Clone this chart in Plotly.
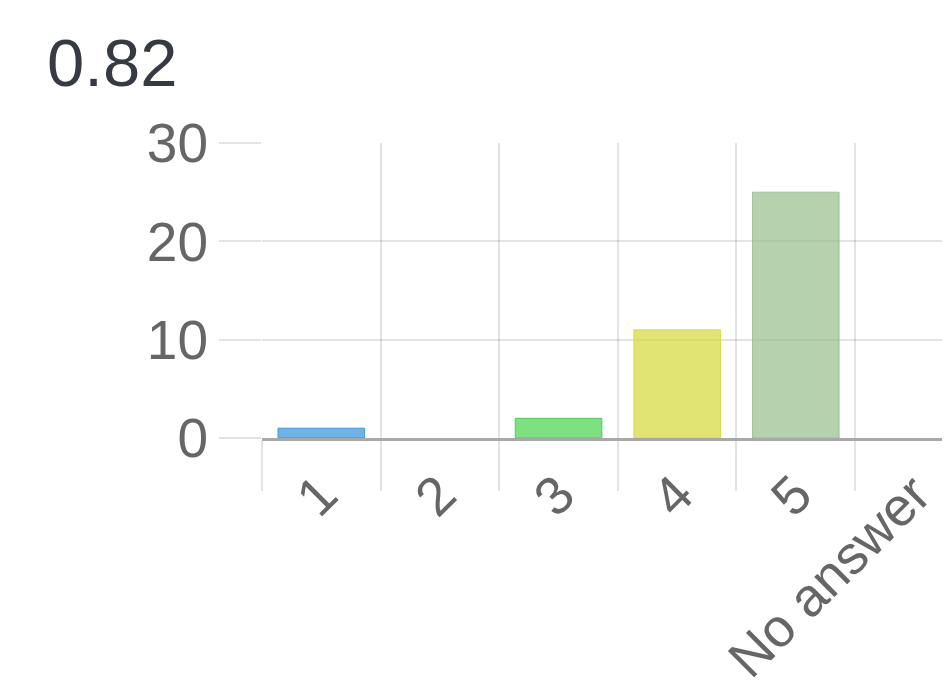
import plotly.graph_objects as go

title_text = "0.82"
categories = ["1", "2", "3", "4", "5", "No answer"]
counts = [1, 0, 2, 11, 25, 0]
bar_colors = ["rgba(54,148,220,0.72)", "rgba(255,99,132,0.6)", "rgba(75,214,80,0.72)",
              "rgba(214,218,60,0.72)", "rgba(150,190,140,0.7)", "rgba(180,180,180,0.6)"]
line_colors = ["rgba(54,148,220,0.9)", "rgba(255,99,132,0.8)", "rgba(75,200,80,0.9)",
               "rgba(214,218,60,0.9)", "rgba(150,190,140,0.85)", "rgba(180,180,180,0.8)"]
y_ticks = [0, 10, 20, 30]

FONT = "Liberation Sans, Arial, sans-serif"

fig = go.Figure(go.Bar(
    x=categories, y=counts,
    marker=dict(color=bar_colors,
                line=dict(color=line_colors, width=[1 if c > 0 else 0 for c in counts])),
    width=0.73,
))

fig.update_layout(
    width=942, height=689,
    margin=dict(l=254, r=0, t=135, b=259),
    paper_bgcolor="white", plot_bgcolor="white",
    showlegend=False,
    title=dict(text=title_text, x=39/942, xref="container", xanchor="left",
               y=1-31/689, yref="container", yanchor="top",
               font=dict(family=FONT, size=67, color="#363a42")),
    font=dict(family=FONT, color="#666666"),
)

fig.update_xaxes(
    type="category",
    range=[-0.5, 5.3],
    tickson="boundaries",
    showgrid=True, gridcolor="rgba(0,0,0,0.11)", gridwidth=2,
    ticks="outside", ticklen=50, tickcolor="rgba(0,0,0,0.11)", tickwidth=2,
    tickangle=-45,
    tickfont=dict(family=FONT, size=54, color="#666666"),
    showline=True, linecolor="#a8a8a8", linewidth=3,
    zeroline=False,
)

fig.update_yaxes(
    range=[0, 30],
    tickvals=y_ticks,
    showgrid=True, gridcolor="rgba(0,0,0,0.11)", gridwidth=2,
    ticks="outside", ticklen=42, tickcolor="rgba(0,0,0,0.11)", tickwidth=2,
    tickfont=dict(family=FONT, size=55, color="#666666"),
    zeroline=False, showline=False,
)

fig.write_html("out.html")
